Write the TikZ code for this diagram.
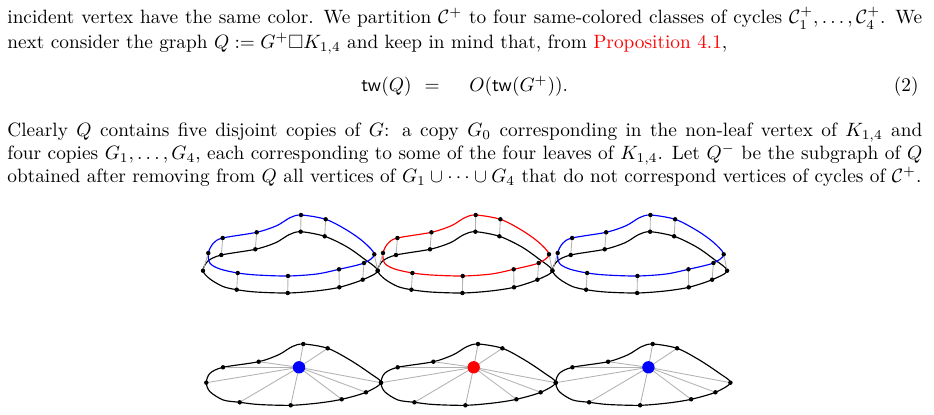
\documentclass[tikz,border=0pt]{standalone}
\usepackage{amssymb}
\begin{document}
\begin{tikzpicture}[x=0.5181pt,y=-0.5181pt,
  dot/.style={circle,fill=black,inner sep=0pt,minimum size=2.3pt},
  hub/.style={circle,inner sep=0pt,minimum size=6.4pt},
  cyc/.style={line width=0.6pt},
  rung/.style={draw=black!30,line width=0.45pt},
  txt/.style={anchor=base west,inner sep=0pt}]
\useasboundingbox (0,0) rectangle (934,414);

% ---------- text ----------
\node[txt] (l1) at (7,24) {\makebox[474pt][s]{incident vertex have the same color. We partition $\mathcal{C}^+$ to four same-colored classes of cycles $\mathcal{C}^+_1,\ldots,\mathcal{C}^+_4$. We}};
\node[txt] (l2) at (7,48.5) {next consider the graph $Q := G^+\square K_{1,4}$ and keep in mind that, from \textcolor{red}{Proposition 4.1},};
\node[anchor=base east,inner sep=0pt] (eqa) at (412,92) {$\mathsf{tw}(Q)$};
\node[anchor=base,inner sep=0pt] (eqb) at (432,92) {$=$};
\node[anchor=base west,inner sep=0pt] (eqc) at (469,92) {$O(\mathsf{tw}(G^+)).$};
\node[anchor=base east,inner sep=0pt] (eqn) at (919,92) {(2)};
\node[txt] (p1) at (7,136.5) {\makebox[474pt][s]{Clearly $Q$ contains five disjoint copies of $G$: a copy $G_0$ corresponding in the non-leaf vertex of $K_{1,4}$ and}};
\node[txt] (p2) at (7,159.5) {\makebox[474pt][s]{four copies $G_1,\ldots,G_4$, each corresponding to some of the four leaves of $K_{1,4}$. Let $Q^-$ be the subgraph of $Q$}};
\node[txt] (p3) at (7,182.5) {obtained after removing from $Q$ all vertices of $G_1\cup\cdots\cup G_4$ that do not correspond vertices of cycles of $\mathcal{C}^+$.};

% ---------- vertex positions ----------
\foreach \k in {0,1,2}{
 \begin{scope}[shift={(\k*174.7,0)}]
  \foreach \i/\x/\y in {1/301/215,2/325.7/219.3,3/374.3/254.3,4/364/263,5/339/269.3,6/288/276,7/237.7/273,8/208.3/253,9/222.7/238,10/256.7/232.3}
    \coordinate (t\k-\i) at (\x,\y);
  \foreach \i/\x/\y in {1/300.7/231.7,2/324.7/236.3,3/377.7/270.7,4/362.7/279.7,5/339.3/287.3,6/287.7/293,7/236.7/289.7,8/203/270.7,9/221.3/255,10/255.3/249.3}
    \coordinate (b\k-\i) at (\x,\y);
  \foreach \i/\x/\y in {1/303.3/344,2/327.7/348.3,3/381/382.7,4/366/392.3,5/341.7/399.3,6/290.7/405.3,7/239.7/402.3,8/206.3/382.7,9/223/367.3,10/258.7/361.7}
    \coordinate (c\k-\i) at (\x,\y);
  \coordinate (h\k) at (299,367.3);
 \end{scope}
}

% ---------- cycles ----------
\foreach \k/\col in {0/blue,1/red,2/blue}{
 \begin{scope}[shift={(\k*174.7,0)}]
  \draw[cyc,draw=black] plot[smooth cycle] coordinates {
    (203,270.7) (208,261) (221.3,255) (255.3,249.3) (275.7,242.7) (289,234.7)
    (300.7,231.7) (324.7,236.3) (346.7,246.7) (363.3,258.3) (377.7,270.7)
    (362.7,279.7) (339.3,287.3) (315.7,291) (287.7,293) (255.7,292)
    (236.7,289.7) (223,286.5) (210,279)};
  \draw[cyc,draw=\col] plot[smooth cycle] coordinates {
    (208.3,253) (213.3,243.3) (222.7,238) (256.7,232.3) (276.7,225.7) (290,217.7)
    (301,215) (325.7,219.3) (346.7,230) (363.3,241.7) (374.3,254.3)
    (364,263) (339,269.3) (316.7,274) (288,276) (256.7,275)
    (237.7,273) (220,269) (210,263.3)};
  \draw[cyc,draw=black] plot[smooth cycle] coordinates {
    (206.3,382.7) (210,373.3) (223,367.3) (258.7,361.7) (278.7,354.7) (292,346.7)
    (303.3,344) (327.7,348.3) (350,360) (370,373.3) (381,382.7)
    (366,392.3) (341.7,399.3) (318.7,403) (290.7,405.3) (258.7,404.5)
    (239.7,402.3) (223.3,400) (210,391.7)};
 \end{scope}
}

% ---------- rungs and spokes ----------
\foreach \k in {0,1,2}{
  \foreach \i in {1,...,10}{
    \draw[rung] (t\k-\i) -- (b\k-\i);
    \draw[rung] (h\k) -- (c\k-\i);
  }
}

% ---------- vertices ----------
\foreach \k/\col in {0/blue,1/red,2/blue}{
  \foreach \i in {1,...,10}{
    \node[dot] (vt\k-\i) at (t\k-\i) {};
    \node[dot] (vb\k-\i) at (b\k-\i) {};
    \node[dot] (vc\k-\i) at (c\k-\i) {};
  }
  \node[hub,fill=\col] (vh\k) at (h\k) {};
}
\end{tikzpicture}
\end{document}
